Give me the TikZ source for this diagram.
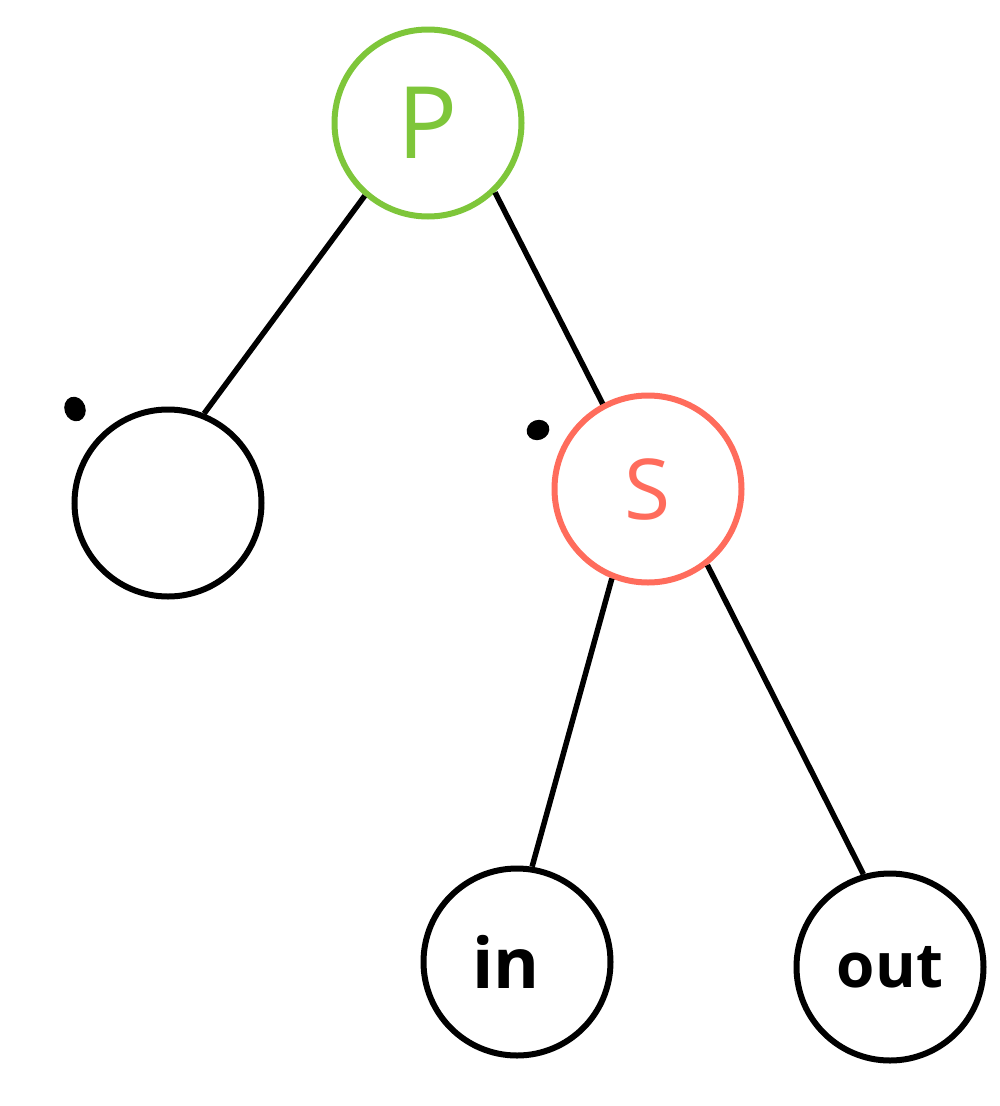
\documentclass[tikz,border=0pt]{standalone}
\usepackage{fontspec}
\setmainfont{Open Sans}
\usetikzlibrary{shapes.geometric}
\definecolor{pgreen}{RGB}{126,198,58}
\definecolor{sred}{RGB}{255,108,92}
\begin{document}
\begin{tikzpicture}[x=1pt,y=-1pt,
  treenode/.style={circle,draw=black,line width=6pt,minimum size=187pt,inner sep=0pt},
  edge/.style={draw=black,line width=5.5pt},
  dotmark/.style={ellipse,fill=black,inner sep=0pt,minimum width=21pt,minimum height=25pt,rotate=20}]
\useasboundingbox (0,0) rectangle (1000,1106);
\node[treenode,draw=pgreen,text=pgreen,font=\fontsize{100}{100}\selectfont] (P) at (428,123) {P};
\node[treenode] (L) at (168,503) {};
\node[treenode,draw=sred,text=sred,font=\fontsize{84}{84}\selectfont] (S) at (648,489) {S};
\node[treenode,font=\fontsize{70}{70}\selectfont\bfseries] (IN) at (517,962) {\hspace*{-22pt}in};
\node[treenode,font=\fontsize{62}{62}\selectfont\bfseries] (OUT) at (890,967) {out};
\node[dotmark] (d1) at (75,409) {};
\node[dotmark,minimum width=23pt,minimum height=20pt,rotate=0] (d2) at (538,430) {};
\draw[edge] (P.229) -- (L.68);
\draw[edge] (P.314) -- (S.118);
\draw[edge] (S.248) -- (IN.81);
\draw[edge] (S.308) -- (OUT.106);
\end{tikzpicture}
\end{document}
